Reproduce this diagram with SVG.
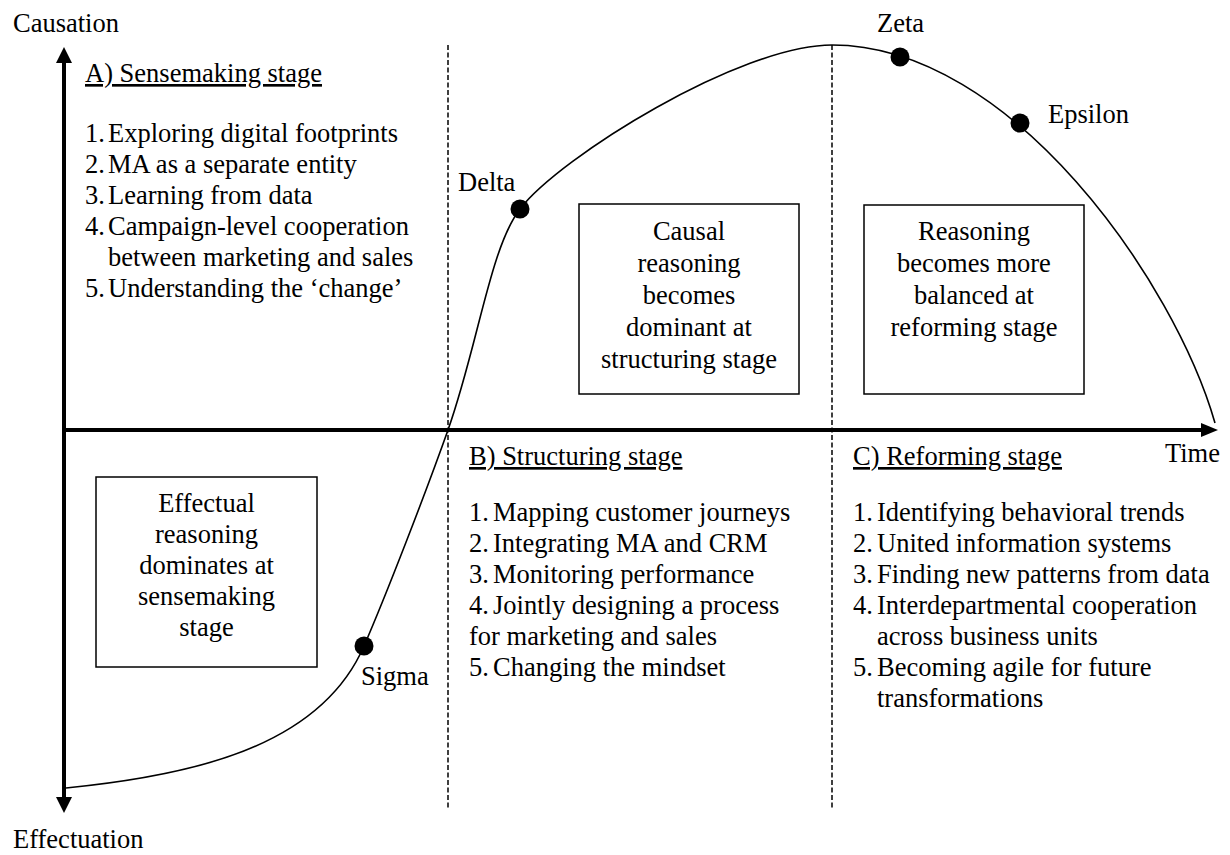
<svg xmlns="http://www.w3.org/2000/svg" width="1230" height="855" viewBox="0 0 1230 855" font-family="'Liberation Serif', 'Times New Roman', serif">
<style>
text{font-family:"Liberation Serif","Times New Roman",serif;font-size:26.5px;fill:#000}
.c{text-anchor:middle}
.u{text-decoration:underline}
.box{fill:#fff;stroke:#000;stroke-width:1.5}
.axis{stroke:#000;stroke-width:4;fill:none}
.dash{stroke:#000;stroke-width:1.5;stroke-dasharray:5 2.5;fill:none}
.curve{stroke:#000;stroke-width:1.6;fill:none}
.dot{fill:#000}
</style>
<rect width="1230" height="855" fill="#fff"/>
<g id="connectors">
<line class="dash" x1="448" y1="45" x2="448" y2="810"/>
<line class="dash" x1="832" y1="45" x2="832" y2="810"/>
<line class="axis" x1="64" y1="60" x2="64" y2="800"/>
<line class="axis" x1="62" y1="430" x2="1203" y2="430"/>
<polygon points="64,47 56,63 72,63"/>
<polygon points="64,813 56,797 72,797"/>
<polygon points="1218,430 1201,423 1201,437"/>
<path class="curve" d="M66,788 C186,776 319,749.5 364,646 C386,595.4 426,492 448,430 C478,345.4 490,248 520,209 C560,157 740,45 832,45 C1012,45 1175,283 1215,423"/>
</g>
<g id="axis-labels">
<text x="13" y="32">Causation</text>
<text x="13" y="848">Effectuation</text>
<text x="1165" y="462">Time</text>
</g>
<g id="stageA">
<text class="u" x="85" y="82">A) Sensemaking stage</text>
<text x="85" y="142">1.</text><text x="108" y="142">Exploring digital footprints</text>
<text x="85" y="173">2.</text><text x="108" y="173">MA as a separate entity</text>
<text x="85" y="204">3.</text><text x="108" y="204">Learning from data</text>
<text x="85" y="235">4.</text><text x="108" y="235">Campaign-level cooperation</text>
<text x="108" y="266">between marketing and sales</text>
<text x="85" y="297">5.</text><text x="108" y="297">Understanding the ‘change’</text>
</g>
<g id="stageB">
<text class="u" x="469" y="465">B) Structuring stage</text>
<text x="469" y="521">1.</text><text x="493" y="521">Mapping customer journeys</text>
<text x="469" y="552">2.</text><text x="493" y="552">Integrating MA and CRM</text>
<text x="469" y="583">3.</text><text x="493" y="583">Monitoring performance</text>
<text x="469" y="614">4.</text><text x="493" y="614">Jointly designing a process</text>
<text x="469" y="645">for marketing and sales</text>
<text x="469" y="676">5.</text><text x="493" y="676">Changing the mindset</text>
</g>
<g id="stageC">
<text class="u" x="853" y="465">C) Reforming stage</text>
<text x="853" y="521">1.</text><text x="877" y="521">Identifying behavioral trends</text>
<text x="853" y="552">2.</text><text x="877" y="552">United information systems</text>
<text x="853" y="583">3.</text><text x="877" y="583">Finding new patterns from data</text>
<text x="853" y="614">4.</text><text x="877" y="614">Interdepartmental cooperation</text>
<text x="877" y="645">across business units</text>
<text x="853" y="676">5.</text><text x="877" y="676">Becoming agile for future</text>
<text x="877" y="707">transformations</text>
</g>
<g id="box-causal">
<rect class="box" x="579" y="204" width="220" height="190"/>
<text class="c" x="689" y="240">Causal</text>
<text class="c" x="689" y="272">reasoning</text>
<text class="c" x="689" y="304">becomes</text>
<text class="c" x="689" y="336">dominant at</text>
<text class="c" x="689" y="368">structuring stage</text>
</g>
<g id="box-balanced">
<rect class="box" x="864" y="205" width="220" height="189"/>
<text class="c" x="974" y="240">Reasoning</text>
<text class="c" x="974" y="272">becomes more</text>
<text class="c" x="974" y="304">balanced at</text>
<text class="c" x="974" y="336">reforming stage</text>
</g>
<g id="box-effectual">
<rect class="box" x="96" y="477" width="221" height="190"/>
<text class="c" x="206.5" y="512">Effectual</text>
<text class="c" x="206.5" y="543">reasoning</text>
<text class="c" x="206.5" y="574">dominates at</text>
<text class="c" x="206.5" y="605">sensemaking</text>
<text class="c" x="206.5" y="636">stage</text>
</g>
<g id="point-sigma">
<circle class="dot" cx="364" cy="646" r="9.5"/>
<text x="361" y="685">Sigma</text>
</g>
<g id="point-delta">
<circle class="dot" cx="520" cy="209" r="9.5"/>
<text x="458" y="191">Delta</text>
</g>
<g id="point-zeta">
<circle class="dot" cx="900" cy="57" r="9.5"/>
<text x="877" y="32">Zeta</text>
</g>
<g id="point-epsilon">
<circle class="dot" cx="1020" cy="123" r="9.5"/>
<text x="1048" y="123">Epsilon</text>
</g>
</svg>
